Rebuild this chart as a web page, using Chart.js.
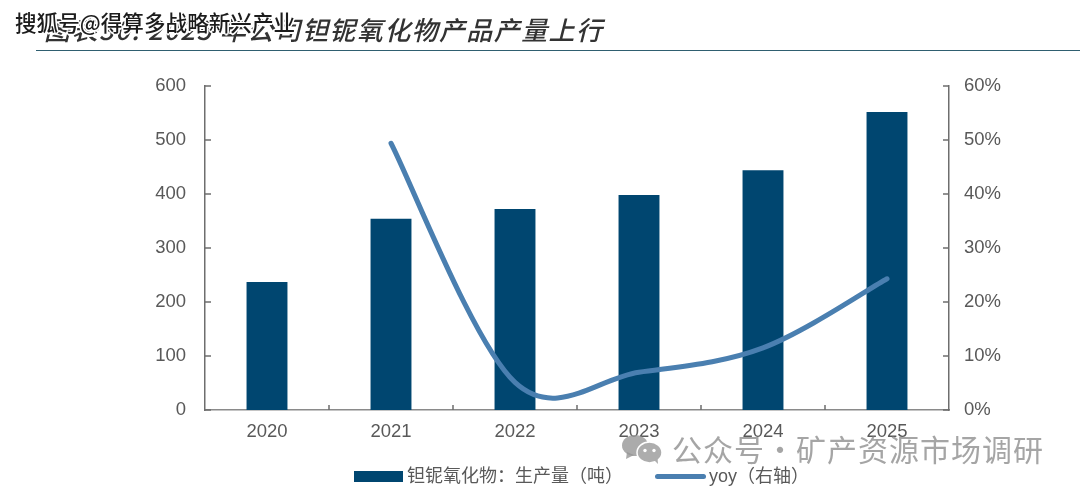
<!DOCTYPE html>
<html lang="zh">
<head>
  <meta charset="UTF-8">
  <title>钽铌氧化物产量</title>
  <script src="https://cdn.jsdelivr.net/npm/chart.js"></script>
  <style>
    html, body { margin: 0; padding: 0; background: #fff; }
    body { width: 1080px; height: 491px; position: relative; overflow: hidden; font-family: 'Liberation Sans', 'Noto Sans CJK SC', sans-serif; }
    #chart { position: absolute; left: 0; top: 0; }
    .title { position: absolute; left: 44px; top: 10px; font-size: 26px; font-weight: 500; font-family: 'Noto Sans CJK SC', sans-serif; font-style: italic; color: #333; letter-spacing: 1.4px; white-space: nowrap; }
    .rule { position: absolute; left: 36px; right: 0; top: 50px; height: 1px; background: #2f5f70; }
    .stamp { position: absolute; left: 15px; top: 6px; font-size: 21.6px; font-weight: 500; font-family: 'Noto Sans CJK SC', sans-serif; color: #1c1c1c; white-space: nowrap; text-shadow: -1.5px 0 #fff, 1.5px 0 #fff, 0 -1.5px #fff, 0 1.5px #fff, -1px -1px #fff, 1px 1px #fff, -1px 1px #fff, 1px -1px #fff; }
    .mark { position: absolute; left: 672px; top: 426px; font-size: 30px; font-family: 'Noto Sans CJK SC', sans-serif; color: rgba(130,130,130,.72); white-space: nowrap; letter-spacing: 1px; }
    .wechat { position: absolute; left: 622px; top: 435px; }
    #legend { position: absolute; top: 463px; left: 354px; display: flex; font-size: 18px; color: #595959; line-height: 26px; }
    #legend .item { display: flex; align-items: center; white-space: nowrap; }
    #legend .item + .item { margin-left: 32px; }
    #legend i { display: block; }
  </style>
</head>
<body>
  <canvas id="chart" width="1080" height="491"></canvas>
  <div class="title">图表30: 2025 年公司钽铌氧化物产品产量上行</div>
  <div class="rule"></div>
  <div class="stamp">搜狐号@得算多战略新兴产业</div>
  <div id="legend"></div>
  <svg class="wechat" width="40" height="29" viewBox="0 0 40 29">
    <ellipse cx="13" cy="10.5" rx="13" ry="10.5" fill="rgba(150,150,150,.8)"/>
    <path d="M5 17 L4 24 L12 20 Z" fill="rgba(150,150,150,.8)"/>
    <ellipse cx="27.5" cy="17.5" rx="12.5" ry="10.5" fill="#adadad" stroke="#fff" stroke-width="1.5"/>
    <path d="M32 25 L36 29 L35.5 23 Z" fill="#adadad"/>
    <circle cx="23" cy="15.5" r="1.7" fill="#fff"/>
    <circle cx="32" cy="15.5" r="1.7" fill="#fff"/>
  </svg>
  <div class="mark">公众号·矿产资源市场调研</div>

  <script>
    const categories = ['2020', '2021', '2022', '2023', '2024', '2025'];
    const output = [237, 354, 372, 398, 444, 552];
    const yoy = [null, 49.4, 5.1, 7.0, 11.5, 24.3];
    const outputTicks = [0, 100, 200, 300, 400, 500, 600];
    const yoyTicks = [0, 10, 20, 30, 40, 50, 60];

    const axisGrey = '#6e6e6e';
    const labelGrey = '#595959';
    const tickFont = { family: "'Liberation Sans', Arial, sans-serif", size: 18.5 };

    // fixed plot edges, the axes only get their label room
    const plotBox = { left: 205, right: 949, top: 86, bottom: 410 };

    // inward tick marks on all three axes
    const inwardTicks = {
      id: 'inwardTicks',
      afterDatasetsDraw(chart) {
        const { ctx, scales: { x, y, y1 } } = chart;
        ctx.save();
        ctx.lineWidth = 1.5;
        ctx.strokeStyle = axisGrey;
        ctx.beginPath();
        y.ticks.forEach((t, i) => {
          const py = y.getPixelForTick(i);
          ctx.moveTo(plotBox.left, py);
          ctx.lineTo(plotBox.left + 6, py);
        });
        y1.ticks.forEach((t, i) => {
          const py = y1.getPixelForTick(i);
          ctx.moveTo(plotBox.right, py);
          ctx.lineTo(plotBox.right - 6, py);
        });
        for (let i = 1; i < categories.length; i++) {
          const px = x.left + (x.right - x.left) * i / categories.length;
          ctx.moveTo(px, plotBox.bottom);
          ctx.lineTo(px, plotBox.bottom - 5);
        }
        ctx.stroke();
        ctx.restore();
      }
    };

    // office-style smoothing: the tangent at a point is (next - prev) / 6,
    // chart.js would otherwise weight it by segment length and bend too early
    const evenSpline = {
      id: 'evenSpline',
      beforeDatasetsDraw(chart) {
        const meta = chart.getDatasetMeta(0);
        const pts = meta.data.filter(p => !p.skip);
        pts.forEach((p, i) => {
          const prev = pts[i - 1] || p;
          const next = pts[i + 1] || p;
          p.cp1x = p.x - (next.x - prev.x) / 6;
          p.cp1y = p.y - (next.y - prev.y) / 6;
          p.cp2x = p.x + (next.x - prev.x) / 6;
          p.cp2y = p.y + (next.y - prev.y) / 6;
        });
        meta.dataset._pointsUpdated = true;
      }
    };

    const chart = new Chart(document.getElementById('chart'), {
      data: {
        labels: categories,
        datasets: [
          {
            type: 'line',
            label: 'yoy（右轴）',
            data: yoy,
            yAxisID: 'y1',
            borderColor: '#4a7fb0',
            borderWidth: 5,
            borderCapStyle: 'round',
            tension: 0.4,
            pointRadius: 0,
            spanGaps: false,
            order: 1
          },
          {
            type: 'bar',
            label: '钽铌氧化物：生产量（吨）',
            data: output,
            yAxisID: 'y',
            backgroundColor: '#004670',
            barPercentage: 0.33,
            categoryPercentage: 1,
            order: 2
          }
        ]
      },
      options: {
        responsive: false,
        animation: false,
        layout: { padding: { top: plotBox.top } },
        plugins: { legend: { display: false }, tooltip: { enabled: false } },
        scales: {
          x: {
            grid: { display: false, drawTicks: false },
            border: { color: '#8a8a8a', width: 1.5 },
            ticks: { color: labelGrey, font: tickFont, padding: 11, maxRotation: 0 },
            afterFit(s) { s.height = 491 - plotBox.bottom; }
          },
          y: {
            position: 'left',
            min: 0,
            max: 600,
            afterBuildTicks(s) { s.ticks = outputTicks.map(v => ({ value: v })); },
            grid: { display: false, drawTicks: false },
            border: { color: axisGrey, width: 1.5 },
            ticks: { color: labelGrey, font: tickFont, padding: 19 },
            afterFit(s) { s.width = plotBox.left; }
          },
          y1: {
            position: 'right',
            min: 0,
            max: 60,
            afterBuildTicks(s) { s.ticks = yoyTicks.map(v => ({ value: v })); },
            grid: { display: false, drawTicks: false },
            border: { color: axisGrey, width: 1.5 },
            ticks: { color: labelGrey, font: tickFont, padding: 15, callback: v => v + '%' },
            afterFit(s) { s.width = 1080 - plotBox.right; }
          }
        }
      },
      plugins: [inwardTicks, evenSpline]
    });

    // legend row: bar first, then the line
    const legend = document.getElementById('legend');
    [chart.data.datasets[1], chart.data.datasets[0]].forEach(ds => {
      const item = document.createElement('div');
      item.className = 'item';
      const swatch = document.createElement('i');
      if (ds.type === 'bar') {
        swatch.style.cssText = 'width:49px;height:11px;margin-right:4px;background:' + ds.backgroundColor;
      } else {
        swatch.style.cssText = 'width:51px;height:5px;margin-right:3px;border-radius:3px;background:' + ds.borderColor;
      }
      item.appendChild(swatch);
      item.appendChild(document.createTextNode(ds.label));
      legend.appendChild(item);
    });
  </script>
</body>
</html>
